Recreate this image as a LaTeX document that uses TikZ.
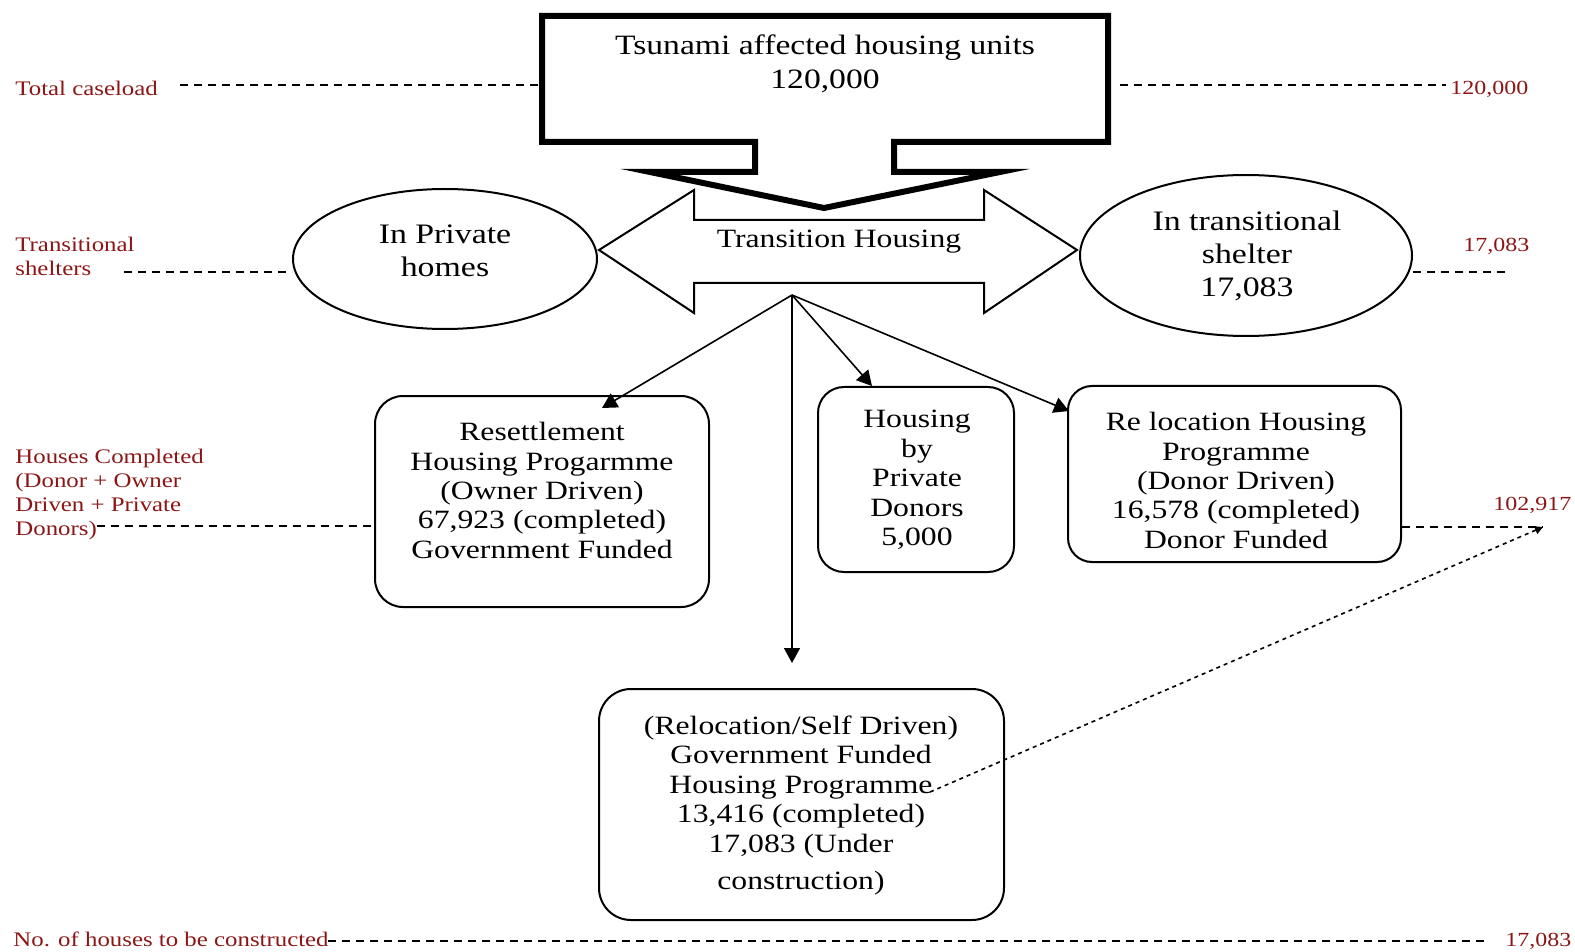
\documentclass[tikz,border=0pt]{standalone}
\usepackage{fontspec}
\setmainfont{Liberation Serif}[FakeStretch=1.2]
\usetikzlibrary{arrows.meta,shapes.geometric,fit}
\definecolor{lblred}{RGB}{140,22,22}
\begin{document}
\begin{tikzpicture}[x=0.5pt,y=-0.5pt,
  callout/.style={draw, line width=3pt, fill=white, line join=miter},
  dblarrow/.style={draw, line width=1pt, fill=white},
  ell/.style={ellipse, draw, line width=1pt, inner sep=0pt},
  pbox/.style={draw, line width=1pt, inner sep=0pt},
  toptxt/.style={font=\fontsize{14}{17}\selectfont, align=center, inner sep=0pt, anchor=north},
  elltxt/.style={font=\fontsize{14.1}{16.5}\selectfont, align=center, inner sep=0pt, anchor=north},
  btxt/.style={font=\fontsize{13.2}{14.7}\selectfont, align=center, inner sep=0pt, anchor=north},
  guide/.style={line width=0.75pt, dash pattern=on 4pt off 3pt},
  diag/.style={line width=0.8pt, dash pattern=on 2pt off 2pt, -{Triangle[length=4pt,width=4pt]}},
  flow/.style={line width=0.8pt, -{Triangle[length=7.5pt,width=8pt]}},
  lbl/.style={text=lblred, font=\fontsize{10.35}{12}\selectfont, inner sep=0pt, align=left},
  num/.style={text=lblred, font=\fontsize{10}{12}\selectfont, inner sep=0pt, anchor=base west}]
\useasboundingbox (0,0) rectangle (1575,952);

% top callout
\draw[callout] (542,16) -- (1108,16) -- (1108,142) -- (894,142) -- (894,172) -- (1000,172)
  -- (824,208) -- (650,172) -- (755,172) -- (755,142) -- (542,142) -- cycle;
\coordinate (cL) at (542,85);
\coordinate (cR) at (1120,85);
\node[toptxt] (ttl) at (825,34.7) {Tsunami affected housing units\\120,000};

% double arrow
\draw[dblarrow] (599,250) -- (694,190) -- (694,220) -- (984,220) -- (984,190) -- (1077,250)
  -- (984,313) -- (984,283) -- (694,283) -- (694,313) -- cycle;
\node[font=\fontsize{13.2}{14.7}\selectfont, inner sep=0pt, anchor=base] (th) at (839,248) {Transition Housing};

% ellipses
\node[ell, minimum width=152pt, minimum height=70pt] (pv) at (445,259) {};
\node[elltxt] (pvt) at (445,224.3) {In Private\\homes};
\node[ell, minimum width=166pt, minimum height=80.5pt] (pt) at (1246,255.5) {};
\node[elltxt] (ptt) at (1247,210.7) {In transitional\\shelter\\17,083};

% boxes
\node[pbox, rounded corners=14pt, fit={(375,396) (709,607)}] (res) {};
\node[btxt] (rest) at (542,422) {Resettlement\\Housing Progarmme\\(Owner Driven)\\67,923 (completed)\\Government Funded};
\node[pbox, rounded corners=13pt, fit={(818,387) (1014,572)}] (prv) {};
\node[btxt] (prvt) at (917,410) {Housing\\by\\Private\\Donors\\5,000};
\node[pbox, rounded corners=12pt, fit={(1068,386) (1401,562)}] (rel) {};
\node[btxt] (relt) at (1236,412) {Re location Housing\\Programme\\(Donor Driven)\\16,578 (completed)\\Donor Funded};
\node[pbox, rounded corners=16pt, fit={(599,689) (1004,920)}] (bot) {};
\node[btxt] (bott) at (801,715.5) {(Relocation/Self Driven)\\Government Funded\\Housing Programme\\13,416 (completed)\\17,083 (Under\\[3.8pt] construction)};

% flow arrows
\coordinate (hub) at (792,295);
\coordinate (resIn) at (602,408);
\coordinate (botIn) at (792,663);
\coordinate (prvIn) at (872,386);
\coordinate (relIn) at (1069,411);
\draw[flow] (hub) -- (resIn);
\draw[flow] (hub) -- (botIn);
\draw[flow] (hub) -- (prvIn);
\draw[flow] (hub) -- (relIn);

% left labels and guides
\node[lbl, anchor=base west] (l1) at (15,96) {Total caseload};
\coordinate (g1) at (180,85);
\draw[guide] (g1) -- (cL);
\node[lbl, anchor=north west] (l2) at (15,236.8) {Transitional\\shelters};
\coordinate (g2) at (124,272);
\draw[guide] (g2) -- (g2 -| pv.west);
\node[lbl, anchor=north west] (l3) at (15,448.8) {Houses Completed\\(Donor + Owner\\Driven + Private\\Donors)};
\coordinate (g3) at (97,526);
\draw[guide] (g3) -- (g3 -| res.west);
\node[lbl, anchor=base west] (l4) at (13,946.5) {No. of houses to be constructed};
\coordinate (g4) at (328,941);
\coordinate (g4e) at (1489,941);
\draw[guide] (g4) -- (g4e);

% right numbers and guides
\coordinate (r1) at (1446,85);
\draw[guide] (cR) -- (r1);
\node[num] (n1) at (1450,95) {120,000};
\coordinate (r2) at (1508,272);
\draw[guide] (pt.east |- r2) -- (r2);
\node[num] (n2) at (1463,252) {17,083};
\coordinate (dE) at (1543,527);
\draw[guide] (rel.east |- dE) -- (dE);
\node[num] (n3) at (1493,510) {102,917};
\node[num] (n4) at (1505,946.5) {17,083};

% diagonal dashed arrow
\coordinate (dS) at (930,792);
\draw[diag] (dS) -- (dE);
\end{tikzpicture}
\end{document}
